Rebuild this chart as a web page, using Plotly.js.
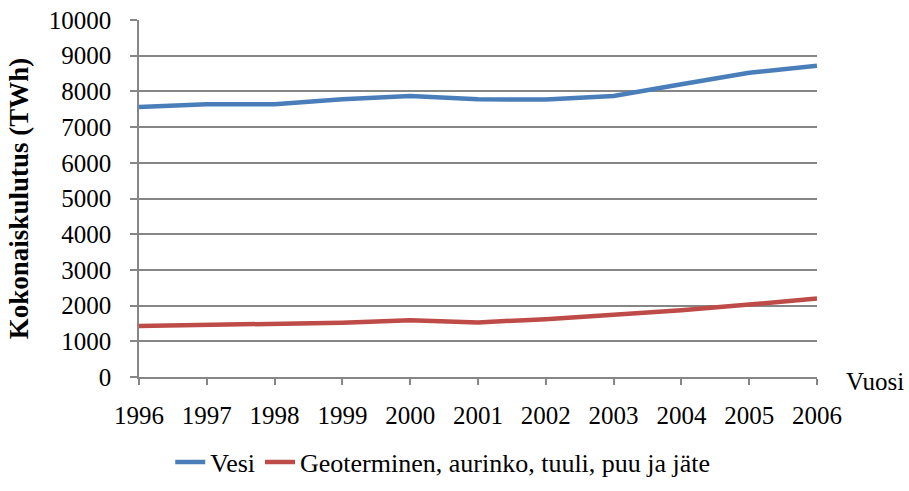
<!DOCTYPE html>
<html><head><meta charset="utf-8">
<script src="https://cdn.plot.ly/plotly-3.0.1.min.js"></script>
<style>html,body{margin:0;padding:0;background:#fff}#chart{width:909px;height:491px}</style>
</head><body><div id="chart"></div>
<script>
const years = [1996,1997,1998,1999,2000,2001,2002,2003,2004,2005,2006];
const vesi = [7560,7640,7640,7780,7870,7780,7770,7870,8200,8520,8720];
const muut = [1430,1465,1470,1520,1590,1530,1620,1730,1870,2030,2200];
const seriesNames = ['Vesi','Geoterminen, aurinko, tuuli, puu ja jäte'];
const yTitle = 'Kokonaiskulutus (TWh)';
const xTitle = 'Vuosi';
const font = 'Liberation Serif';
const traces = [
  {x: years, y: vesi, name: seriesNames[0], type:'scatter', mode:'lines', line:{color:'#4a7ebb', width:4.5}},
  {x: years, y: muut, name: seriesNames[1], type:'scatter', mode:'lines', line:{color:'#be4b48', width:4.5}}
];
const layout = {
  width:909, height:491,
  margin:{l:139, r:92, t:20, b:114, autoexpand:false},
  paper_bgcolor:'#fff', plot_bgcolor:'#fff',
  font:{family:font, size:25, color:'#000'},
  showlegend:true,
  legend:{orientation:'h', x:0.448, xanchor:'center', yref:'container', y:0.059, yanchor:'middle', font:{size:26, family:font}, tracegroupgap:0, itemwidth:30},
  xaxis:{range:[1996,2006], tickmode:'array', tickvals:years, ticktext:years.map(String),
    tickfont:{family:font, size:25},
    showgrid:false, zeroline:false, showline:true, linecolor:'#868686', linewidth:1.5,
    ticks:'outside', ticklen:6, tickcolor:'#868686', tickwidth:1.5, ticklabelstandoff:9},
  yaxis:{range:[0,10000], dtick:1000, tickformat:'d', showgrid:true, gridcolor:'#868686', gridwidth:1.5,
    tickfont:{family:font, size:25},
    zeroline:false, showline:true, linecolor:'#868686', linewidth:1.5,
    ticks:'outside', ticklen:7, tickcolor:'#868686', tickwidth:1.5, ticklabelstandoff:14,
    title:{text:'<b>'+yTitle+'</b>', font:{size:27, family:font}, standoff:12}},
  annotations:[{text:xTitle, xref:'paper', yref:'paper', x:1.085, y:0, xanchor:'center', yanchor:'middle', yshift:-4, showarrow:false, font:{size:25, family:font}}]
};
Plotly.newPlot('chart', traces, layout, {displayModeBar:false});
</script></body></html>
